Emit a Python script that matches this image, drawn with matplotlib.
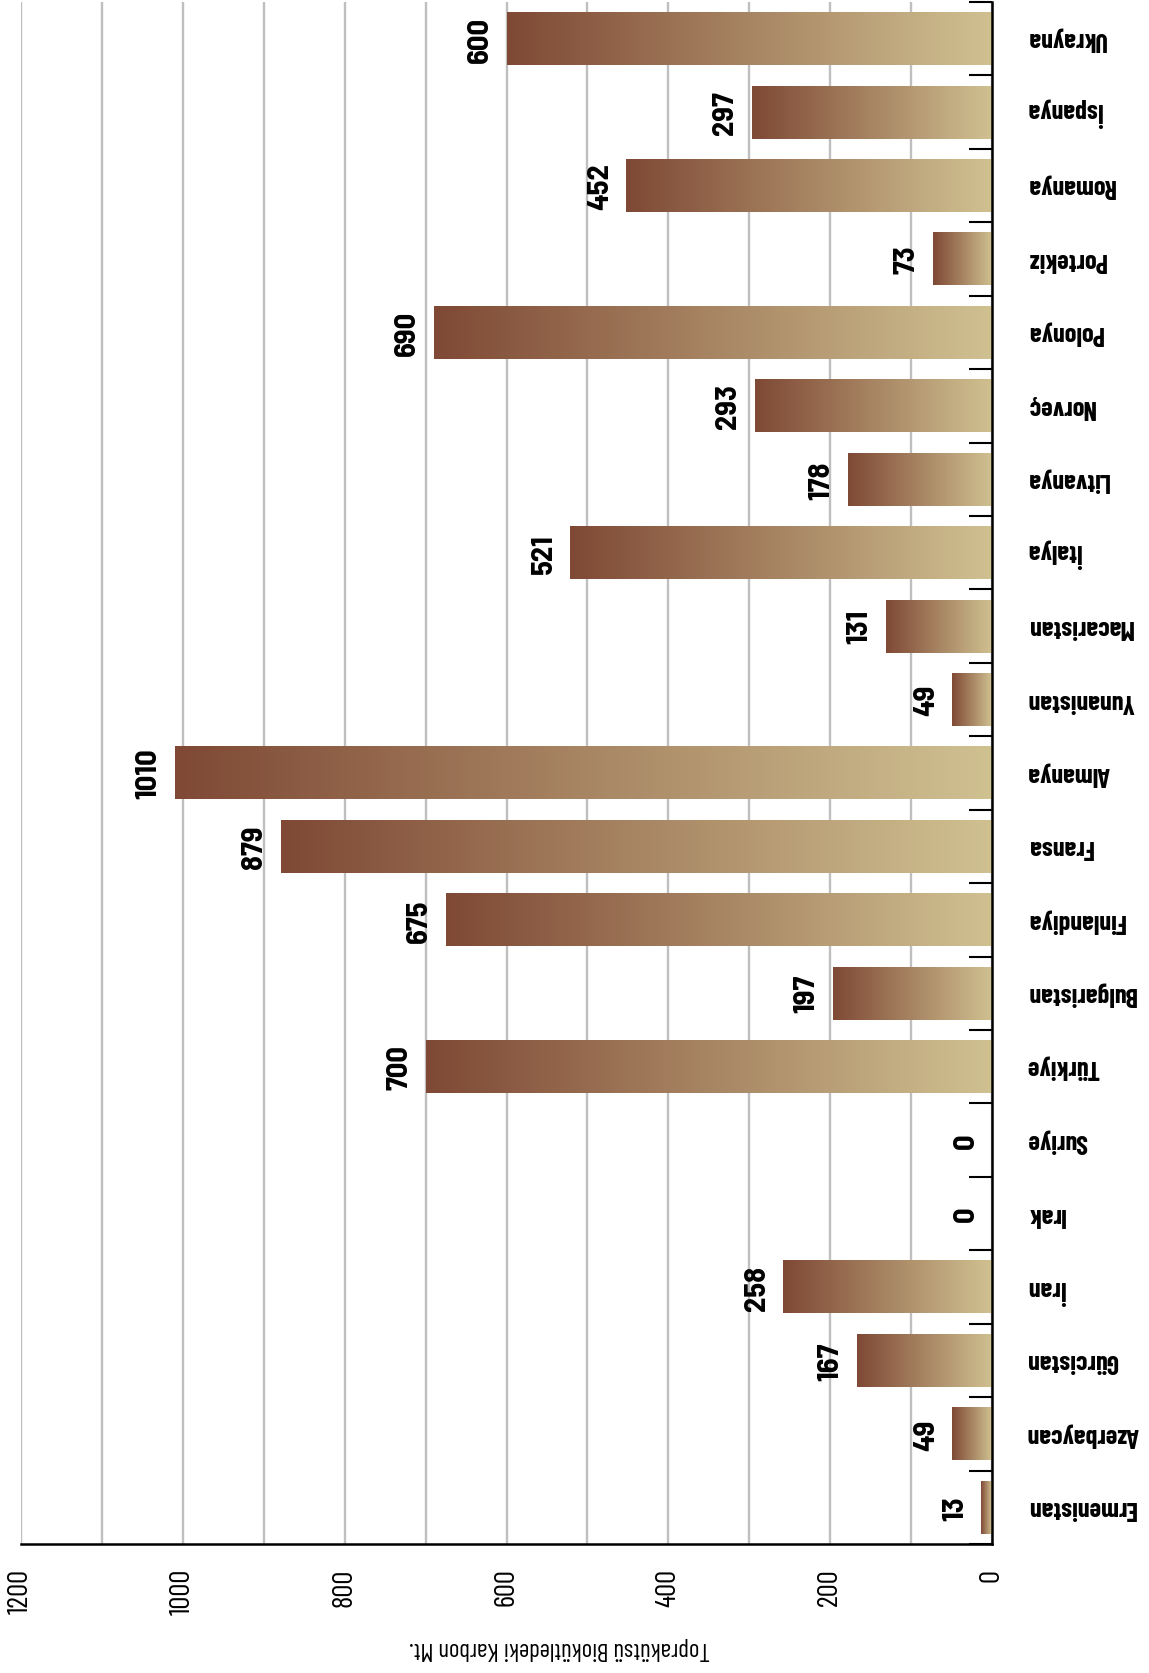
import numpy as np
import matplotlib
matplotlib.use("Agg")
import matplotlib.pyplot as plt
from matplotlib.colors import LinearSegmentedColormap
from matplotlib.ticker import MultipleLocator

# data
countries = ['Ermenistan', 'Azerbaycan', 'Gürcistan', 'İran', 'Irak', 'Suriye',
             'Türkiye', 'Bulgaristan', 'Finlandiya', 'Fransa', 'Almanya',
             'Yunanistan', 'Macaristan', 'İtalya', 'Litvanya', 'Norveç',
             'Polonya', 'Portekiz', 'Romanya', 'İspanya', 'Ukrayna']
carbon = [13, 49, 167, 258, 0, 0, 700, 197, 675, 879, 1010,
          49, 131, 521, 178, 293, 690, 73, 452, 297, 600]
value_ticks = [0, 200, 400, 600, 800, 1000, 1200]
axis_title = 'Toprakütsü Biokütledeki Karbon Mt.'

fonts = ['Barlow Condensed', 'Roboto Condensed', 'Archivo Narrow',
         'PT Sans Narrow', 'DejaVu Sans']
val_fonts = ['Barlow Semi Condensed'] + fonts
plt.rcParams['font.family'] = fonts

fig = plt.figure(figsize=(11.49, 16.74), dpi=100)
ax = fig.add_axes([21/1149, 1 - 1545/1674, (992-21)/1149, (1545-3)/1674])

grad = LinearSegmentedColormap.from_list('g', ['#D0C191', '#7F4935'])
gimg = np.linspace(0, 1, 256).reshape(1, -1)

pos = np.arange(len(countries))
bars = ax.barh(pos, carbon, height=0.72, color='none', zorder=2)
for b, v in zip(bars, carbon):
    if v <= 0:
        continue
    x0, y0, w, h = b.get_x(), b.get_y(), b.get_width(), b.get_height()
    ax.imshow(gimg, cmap=grad, aspect='auto', extent=[x0, x0 + w, y0, y0 + h],
              interpolation='bilinear', zorder=2)

# value labels
for p, v in zip(pos, carbon):
    ax.annotate(str(v), (v, p), xytext=(-9, 0), textcoords='offset points',
                rotation=90, ha='right', va='center', fontsize=22,
                fontweight='bold', family=val_fonts)

ax.set_xlim(1200, 0)
ax.set_ylim(-0.5, len(countries) - 0.5)

ax.set_xticks(value_ticks)
ax.xaxis.set_minor_locator(MultipleLocator(100))
ax.grid(axis='x', which='both', color='#BFBFBF', linewidth=1.7, zorder=0)
ax.set_axisbelow(True)
ax.tick_params(axis='x', which='both', length=0, pad=17, labelsize=21,
               labelrotation=90)

ax.set_yticks(pos)
ax.set_yticklabels(countries, rotation=180, fontsize=19, fontweight='bold',
                   ha='left', va='center')
ax.yaxis.tick_right()
ax.set_yticks(np.arange(-0.5, len(countries), 1.0), minor=True)
ax.tick_params(axis='y', which='major', length=0, pad=25)
ax.tick_params(axis='y', which='minor', direction='in', length=16.5,
               width=1.5, color='black')

for s in ['left', 'top']:
    ax.spines[s].set_visible(False)
for s in ['right', 'bottom']:
    ax.spines[s].set_linewidth(1.8)
    ax.spines[s].set_color('black')

fig.text(560/1149, 1 - 1649/1674, axis_title, rotation=180, ha='center',
         va='center', fontsize=18)

fig.savefig('out.png', dpi=100)
